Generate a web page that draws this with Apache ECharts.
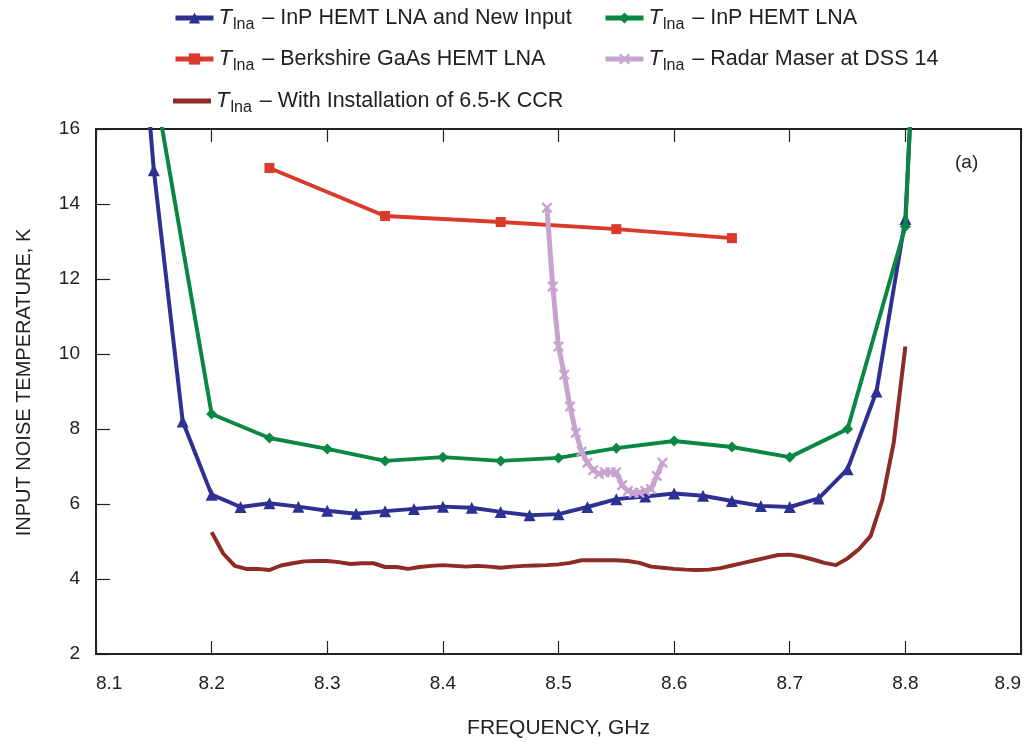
<!DOCTYPE html>
<html>
<head>
<meta charset="utf-8">
<script src="https://cdn.jsdelivr.net/npm/echarts@6/dist/echarts.min.js"></script>
<style>
  html, body { margin: 0; padding: 0; background: #fff; }
  #chart { width: 1029px; height: 748px; }
</style>
</head>
<body>
<div id="chart"></div>
<script>
// frequency (GHz) and noise temperature (K)
const newInputFreq = [8.146, 8.15, 8.175, 8.2, 8.225, 8.25, 8.275, 8.3, 8.325, 8.35, 8.375, 8.4, 8.425, 8.45, 8.475, 8.5, 8.525, 8.55, 8.575, 8.6, 8.625, 8.65, 8.675, 8.7, 8.725, 8.75, 8.775, 8.8, 8.806];
const newInputTemp = [16.4, 14.9, 8.2, 6.25, 5.92, 6.02, 5.93, 5.82, 5.74, 5.81, 5.87, 5.93, 5.9, 5.79, 5.7, 5.73, 5.92, 6.13, 6.2, 6.28, 6.22, 6.08, 5.95, 5.92, 6.15, 6.93, 9.0, 13.6, 17.4];

const inpFreq = [8.15, 8.2, 8.25, 8.3, 8.35, 8.4, 8.45, 8.5, 8.55, 8.6, 8.65, 8.7, 8.75, 8.8, 8.806];
const inpTemp = [17.3, 8.4, 7.76, 7.47, 7.15, 7.25, 7.15, 7.23, 7.49, 7.68, 7.52, 7.25, 8.0, 13.4, 17.5];

const berkFreq = [8.25, 8.35, 8.45, 8.55, 8.65];
const berkTemp = [14.96, 13.68, 13.52, 13.33, 13.09];

const maserFreq = [8.49, 8.495, 8.5, 8.505, 8.51, 8.515, 8.52, 8.525, 8.53, 8.535, 8.54, 8.545, 8.55, 8.555, 8.56, 8.565, 8.57, 8.575, 8.58, 8.585, 8.59];
const maserTemp = [13.9, 11.8, 10.2, 9.45, 8.6, 7.9, 7.4, 7.1, 6.9, 6.8, 6.85, 6.85, 6.85, 6.5, 6.35, 6.3, 6.3, 6.35, 6.4, 6.75, 7.1];

const ccrFreq = [8.2, 8.21, 8.22, 8.23, 8.24, 8.25, 8.26, 8.27, 8.28, 8.29, 8.3, 8.31, 8.32, 8.33, 8.34, 8.35, 8.36, 8.37, 8.38, 8.39, 8.4, 8.41, 8.42, 8.43, 8.44, 8.45, 8.46, 8.47, 8.48, 8.49, 8.5, 8.51, 8.52, 8.53, 8.54, 8.55, 8.56, 8.57, 8.58, 8.59, 8.6, 8.61, 8.62, 8.63, 8.64, 8.65, 8.66, 8.67, 8.68, 8.69, 8.7, 8.71, 8.72, 8.73, 8.74, 8.75, 8.76, 8.77, 8.78, 8.79, 8.8];
const ccrTemp = [5.25, 4.68, 4.35, 4.27, 4.27, 4.24, 4.36, 4.42, 4.47, 4.48, 4.48, 4.45, 4.4, 4.42, 4.42, 4.32, 4.32, 4.27, 4.32, 4.35, 4.37, 4.35, 4.33, 4.35, 4.33, 4.3, 4.33, 4.35, 4.36, 4.37, 4.39, 4.43, 4.5, 4.5, 4.5, 4.5, 4.48, 4.43, 4.33, 4.3, 4.27, 4.25, 4.24, 4.25, 4.29, 4.36, 4.43, 4.5, 4.57, 4.64, 4.65, 4.6, 4.52, 4.43, 4.37, 4.55, 4.8, 5.15, 6.1, 7.65, 10.2];

const seriesNames = [
    'InP HEMT LNA and New Input',
    'InP HEMT LNA',
    'Berkshire GaAs HEMT LNA',
    'Radar Maser at DSS 14',
    'With Installation of 6.5-K CCR'
];

const zip = (xs, ys) => xs.map((x, i) => [x, ys[i]]);

const FONT = '"Liberation Sans", Arial, Helvetica, sans-serif';
const crossIcon = 'path://M0,1.5L1.5,0L5,3.5L8.5,0L10,1.5L6.5,5L10,8.5L8.5,10L5,6.5L1.5,10L0,8.5L3.5,5Z';

const myChart = echarts.init(document.getElementById('chart'));

// one legend per item so the two-column layout can be placed by hand
const legendPos = [
    { left: 168, top: 2 },
    { left: 598, top: 2 },
    { left: 168, top: 43 },
    { left: 598, top: 43 },
    { left: 168, top: 85 }
];
const legends = seriesNames.map((name, i) => {
    const lg = {
        data: [name],
        left: legendPos[i].left,
        top: legendPos[i].top,
        itemWidth: 38,
        itemHeight: 14,
        itemGap: 6,
        lineStyle: { width: 5 },
        formatter: n => '{t|T}{s|lna}{n| – ' + n + '}',
        textStyle: {
            fontFamily: FONT,
            color: '#222',
            rich: {
                t: { fontSize: 22, fontStyle: 'italic', fontFamily: FONT, color: '#222', lineHeight: 30, verticalAlign: 'middle' },
                s: { fontSize: 16, fontFamily: FONT, color: '#222', lineHeight: 30, verticalAlign: 'bottom', padding: [0, 2, 0, 1] },
                n: { fontSize: 21.5, fontFamily: FONT, color: '#222', lineHeight: 30, verticalAlign: 'middle' }
            }
        }
    };
    if (i === 4) {
        lg.data = [{ name: name, icon: 'path://M0,0H38V5H0Z' }];
        lg.itemHeight = 5;
    }
    return lg;
});

const option = {
    animation: false,
    legend: legends,
    grid: {
        left: 96,
        right: 8,
        top: 129,
        bottom: 94,
        containLabel: false,
        outerBoundsMode: 'none',
        show: true,
        borderColor: '#222',
        borderWidth: 2
    },
    xAxis: [{
        type: 'value',
        min: 8.1,
        max: 8.9,
        interval: 0.1,
        name: 'FREQUENCY, GHz',
        nameLocation: 'middle',
        nameGap: 64,
        nameTextStyle: { fontFamily: FONT, fontSize: 21, color: '#222' },
        axisLine: { lineStyle: { color: '#222', width: 2 } },
        axisTick: { inside: true, length: 13, lineStyle: { color: '#222', width: 1.2 } },
        axisLabel: {
            fontFamily: FONT, fontSize: 19, color: '#222', margin: 20,
            alignMinLabel: 'left',
            alignMaxLabel: 'right',
            formatter: v => v.toFixed(1)
        },
        splitLine: { show: false }
    }, {
        type: 'value',
        position: 'top',
        min: 8.1,
        max: 8.9,
        interval: 0.1,
        axisLine: { lineStyle: { color: '#222', width: 2 } },
        axisTick: { inside: true, length: 13, lineStyle: { color: '#222', width: 1.2 } },
        axisLabel: { show: false },
        splitLine: { show: false }
    }],
    yAxis: {
        type: 'value',
        min: 2,
        max: 16,
        interval: 2,
        name: 'INPUT NOISE TEMPERATURE, K',
        nameLocation: 'middle',
        nameGap: 62,
        nameTextStyle: { fontFamily: FONT, fontSize: 20, color: '#222', padding: [0, 0, 0, 18] },
        axisLine: { show: true, lineStyle: { color: '#222', width: 2 } },
        axisTick: { show: true, inside: true, length: 14, lineStyle: { color: '#222', width: 1.2 } },
        axisLabel: { fontFamily: FONT, fontSize: 19, color: '#222', margin: 16 },
        splitLine: { show: false }
    },
    graphic: [{
        type: 'text',
        left: 955,
        top: 153,
        style: { text: '(a)', font: '19px ' + FONT, fill: '#222' }
    }],
    series: [{
        name: seriesNames[0],
        type: 'line',
        data: zip(newInputFreq, newInputTemp),
        symbol: 'triangle',
        symbolSize: 12,
        color: '#2e3192',
        lineStyle: { width: 4 },
        z: 4
    }, {
        name: seriesNames[1],
        type: 'line',
        data: zip(inpFreq, inpTemp),
        symbol: 'diamond',
        symbolSize: 11,
        color: '#0a8843',
        lineStyle: { width: 4 },
        z: 5
    }, {
        name: seriesNames[2],
        type: 'line',
        data: zip(berkFreq, berkTemp),
        symbol: 'rect',
        symbolSize: 10,
        color: '#d93a2a',
        lineStyle: { width: 4 },
        z: 3
    }, {
        name: seriesNames[3],
        type: 'line',
        data: zip(maserFreq, maserTemp),
        symbol: crossIcon,
        symbolSize: 11,
        color: '#c9a3cf',
        lineStyle: { width: 5 },
        z: 6
    }, {
        name: seriesNames[4],
        type: 'line',
        data: zip(ccrFreq, ccrTemp),
        showSymbol: false,
        symbol: 'none',
        color: '#8d2b24',
        lineStyle: { width: 4 },
        z: 2
    }]
};

myChart.setOption(option);
window.addEventListener('resize', () => {
    myChart.resize();
});
</script>
</body>
</html>
